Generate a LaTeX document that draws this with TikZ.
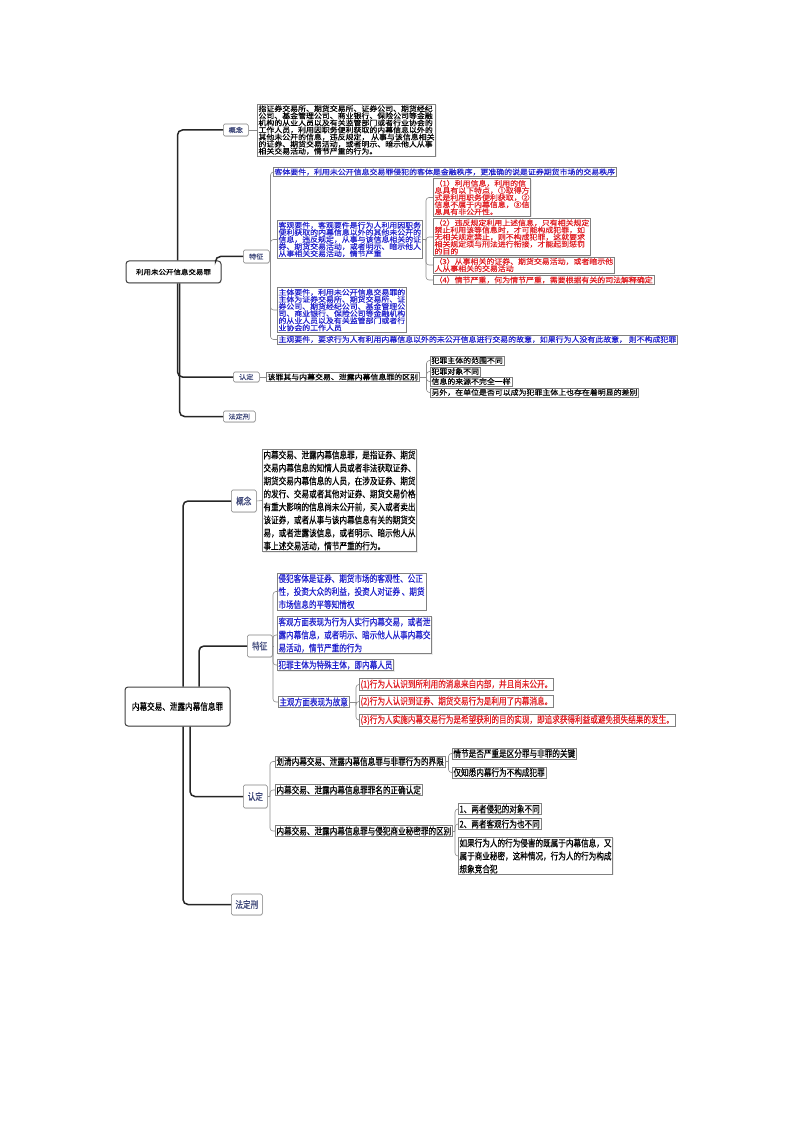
\documentclass[tikz,border=0pt]{standalone}
\usepackage{fontspec}
\setmainfont{Noto Sans CJK SC}
\newfontfamily\widecjk[FakeStretch=1.1,FakeBold=0.4]{Noto Sans CJK SC}
\newfontfamily\narrowcjk[FakeStretch=0.8,FakeBold=0.3]{Noto Sans CJK SC}
\definecolor{mapblue}{RGB}{35,35,205}
\definecolor{mapred}{RGB}{225,30,35}
\definecolor{maplabel}{RGB}{60,70,120}
\usetikzlibrary{shadows}

\begin{document}
\begin{tikzpicture}[x=1pt,y=-1pt,
  trunk/.style={line width=1.5pt, black!85, rounded corners=5pt},
  twig/.style={line width=0.6pt, black!45, rounded corners=3pt},
  leaf/.style={draw=black!50, line width=0.6pt, fill=white, anchor=west, align=left, inner sep=1.2pt,
    drop shadow={shadow xshift=0.8pt, shadow yshift=-0.8pt, fill=black!15}},
  topfont/.style={font=\widecjk\fontsize{7.2}{7.1}\selectfont},
  lowfont/.style={font=\narrowcjk\fontsize{9.5}{13}\selectfont},
  tag/.style={leaf, rounded corners=1.5pt, text=maplabel, align=center, inner sep=0pt},
  rootbox/.style={draw=black!75, line width=1pt, rounded corners=3pt, fill=white, inner sep=0pt,
    drop shadow={shadow xshift=0.8pt, shadow yshift=-0.8pt, fill=black!20}}]
\useasboundingbox (0,0) rectangle (800,1131);
%
% first map
\node [rootbox, minimum width=95, minimum height=22, font=\widecjk\fontsize{6.8}{8}\selectfont] (R1) at (173.5,272) {利用未公开信息交易罪};
\node [tag, minimum width=25, minimum height=12, font=\widecjk\fontsize{6.5}{7}\selectfont] (gn1) at (223,130) {概念};
\node [tag, minimum width=26, minimum height=13, font=\widecjk\fontsize{6.5}{7}\selectfont] (tz1) at (243,256.5) {特征};
\node [tag, minimum width=26, minimum height=10, font=\widecjk\fontsize{6.5}{7}\selectfont] (rd1) at (233,377) {认定};
\node [tag, minimum width=32, minimum height=11, font=\widecjk\fontsize{6.5}{7}\selectfont] (fd1) at (223,416.5) {法定刑};
%
\node [leaf, topfont] (gnt1) at (257,130) {指证券交易所、期货交易所、证券公司、期货经纪\\公司、基金管理公司、商业银行、保险公司等金融\\机构的从业人员以及有关监管部门或者行业协会的\\工作人员，利用因职务便利获取的内幕信息以外的\\其他未公开的信息，违反规定，\ 从事与该信息相关\\的证券、期货交易活动，或者明示、暗示他人从事\\相关交易活动，情节严重的行为。};
\node [leaf, topfont, text=mapblue] (kt1) at (273,172) {客体要件，利用未公开信息交易罪侵犯的客体是金融秩序，更准确的说是证券期货市场的交易秩序};
\node [leaf, topfont, text=mapblue] (kg1) at (277,239.5) {客观要件，客观要件是行为人利用因职务\\便利获取的内幕信息以外的其他未公开的\\信息，违反规定，从事与该信息相关的证\\券、期货交易活动，或者明示、暗示他人\\从事相关交易活动，情节严重};
\node [leaf, topfont, text=mapblue] (zt1) at (277,310) {主体要件，利用未公开信息交易罪的\\主体为证券交易所、期货交易所、证\\券公司、期货经纪公司、基金管理公\\司、商业银行、保险公司等金融机构\\的从业人员以及有关监管部门或者行\\业协会的工作人员};
\node [leaf, topfont, text=mapblue] (zg1) at (277,339.5) {主观要件，要求行为人有利用内幕信息以外的未公开信息进行交易的故意，如果行为人没有此故意，\ 则不构成犯罪};
%
\node [leaf, topfont, text=mapred] (r1) at (433,197.5) {（1）利用信息，利用的信\\息具有以下特点，①取得方\\式是利用职务便利获取，②\\信息不属于内幕信息，③信\\息具有非公开性。};
\node [leaf, topfont, text=mapred] (r2) at (433,237) {（2）违反规定利用上述信息，只有相关规定\\禁止利用该等信息时，才可能构成犯罪，如\\无相关规定禁止，则不构成犯罪，这就要求\\相关规定须与刑法进行衔接，才能起到惩罚\\的目的};
\node [leaf, topfont, text=mapred] (r3) at (433,265) {（3）从事相关的证券、期货交易活动，或者暗示他\\人从事相关的交易活动};
\node [leaf, topfont, text=mapred] (r4) at (433,280) {（4）情节严重，何为情节严重，需要根据有关的司法解释确定};
%
\node [leaf, topfont] (qb1) at (266,377) {该罪其与内幕交易、泄露内幕信息罪的区别};
\node [leaf, topfont] (q1) at (430,360.5) {犯罪主体的范围不同};
\node [leaf, topfont] (q2) at (430,371.5) {犯罪对象不同};
\node [leaf, topfont] (q3) at (430,381.5) {信息的来源不完全一样};
\node [leaf, topfont] (q4) at (430,392.5) {另外，在单位是否可以成为犯罪主体上也存在着明显的差别};
%
\draw [trunk] ([xshift=4pt]R1.north) |- (gn1.west);
\draw [trunk] ([xshift=-6pt]R1.north east) |- (tz1.west);
\draw [trunk] ([xshift=4pt]R1.south) |- (rd1.west);
\draw [trunk] ([xshift=6pt]R1.south) |- (fd1.west);
\draw [twig] (gn1.east) -- (gnt1.west);
\coordinate (tzs1) at (270.5,256.5);
\draw [twig] (tz1.east) -- (tzs1);
\foreach \c in {kt1,kg1,zt1,zg1} \draw [twig] (tzs1) |- (\c.west);
\coordinate (kgs1) at (426,239.5);
\draw [twig] (kg1.east) -- (kgs1);
\foreach \c in {r1,r2,r3,r4} \draw [twig] (kgs1) |- (\c.west);
\draw [twig] (rd1.east) -- (qb1.west);
\coordinate (qbs1) at (426.5,377);
\draw [twig] (qb1.east) -- (qbs1);
\foreach \c in {q1,q2,q3,q4} \draw [twig] (qbs1) |- (\c.west);
%
% second map
\node [rootbox, minimum width=105, minimum height=39, lowfont] (R2) at (177.5,706.5) {内幕交易、泄露内幕信息罪};
\node [tag, minimum width=25, minimum height=22, lowfont] (gn2) at (231,501) {概念};
\node [tag, minimum width=25, minimum height=22, lowfont] (tz2) at (247,646) {特征};
\node [tag, minimum width=24, minimum height=23, lowfont] (rd2) at (243,796.5) {认定};
\node [tag, minimum width=31, minimum height=21, lowfont] (fd2) at (231,904.5) {法定刑};
%
\node [leaf, lowfont] (gnt2) at (262,500.5) {内幕交易、泄露内幕信息罪，是指证券、期货\\交易内幕信息的知情人员或者非法获取证券、\\期货交易内幕信息的人员，在涉及证券、期货\\的发行、交易或者其他对证券、期货交易价格\\有重大影响的信息尚未公开前，买入或者卖出\\该证券，或者从事与该内幕信息有关的期货交\\易，或者泄露该信息，或者明示、暗示他人从\\事上述交易活动，情节严重的行为。};
\node [leaf, lowfont, text=mapblue] (kt2) at (277,591.5) {侵犯客体是证券、期货市场的客观性、公正\\性，投资大众的利益，投资人对证券\ 、期货\\市场信息的平等知情权};
\node [leaf, lowfont, text=mapblue] (kg2) at (277,635) {客观方面表现为行为人实行内幕交易，或者泄\\露内幕信息，或者明示、暗示他人从事内幕交\\易活动，情节严重的行为};
\node [leaf, lowfont, text=mapblue] (zt2) at (277,665) {犯罪主体为特殊主体，即内幕人员};
\node [leaf, lowfont, text=mapblue] (zg2) at (278,702) {主观方面表现为故意};
\node [leaf, lowfont, text=mapred] (p1) at (359,684.5) {(1)行为人认识到所利用的消息来自内部，并且尚未公开。};
\node [leaf, lowfont, text=mapred] (p2) at (359,701.5) {(2)行为人认识到证券、期货交易行为是利用了内幕消息。};
\node [leaf, lowfont, text=mapred] (p3) at (359,720) {(3)行为人实施内幕交易行为是希望获利的目的实现，即追求获得利益或避免损失结果的发生。};
%
\node [leaf, lowfont] (h1) at (275,761.5) {划清内幕交易、泄露内幕信息罪与非罪行为的界限};
\node [leaf, lowfont] (h11) at (452,753.5) {情节是否严重是区分罪与非罪的关键};
\node [leaf, lowfont] (h12) at (452,772.5) {仅知悉内幕行为不构成犯罪};
\node [leaf, lowfont] (h2) at (275,790) {内幕交易、泄露内幕信息罪罪名的正确认定};
\node [leaf, lowfont] (h3) at (275,831) {内幕交易、泄露内幕信息罪与侵犯商业秘密罪的区别};
\node [leaf, lowfont] (h31) at (458,809) {1、两者侵犯的对象不同};
\node [leaf, lowfont] (h32) at (458,824) {2、两者客观行为也不同};
\node [leaf, lowfont] (h33) at (458,856) {如果行为人的行为侵害的既属于内幕信息，又\\属于商业秘密，这种情况，行为人的行为构成\\想象竞合犯};
%
\draw [trunk] ([xshift=5.5pt]R2.north) |- (gn2.west);
\draw [trunk] ([xshift=21.5pt]R2.north) |- (tz2.west);
\draw [trunk] ([xshift=12.5pt]R2.south) |- (rd2.west);
\draw [trunk] ([xshift=5.5pt]R2.south) |- (fd2.west);
\draw [twig] (gn2.east) -- (gnt2.west);
\coordinate (tzs2) at (273,646);
\draw [twig] (tz2.east) -- (tzs2);
\foreach \c in {kt2,kg2,zt2,zg2} \draw [twig] (tzs2) |- (\c.west);
\coordinate (zgs2) at (356,702);
\draw [twig] (zg2.east) -- (zgs2);
\foreach \c in {p1,p2,p3} \draw [twig] (zgs2) |- (\c.west);
\coordinate (rds2) at (270,796.5);
\draw [twig] (rd2.east) -- (rds2);
\foreach \c in {h1,h2,h3} \draw [twig] (rds2) |- (\c.west);
\coordinate (hs1) at (448.5,761.5);
\draw [twig] (h1.east) -- (hs1);
\foreach \c in {h11,h12} \draw [twig] (hs1) |- (\c.west);
\coordinate (hs3) at (455,831);
\draw [twig] (h3.east) -- (hs3);
\foreach \c in {h31,h32,h33} \draw [twig] (hs3) |- (\c.west);
%
\end{tikzpicture}
\end{document}
